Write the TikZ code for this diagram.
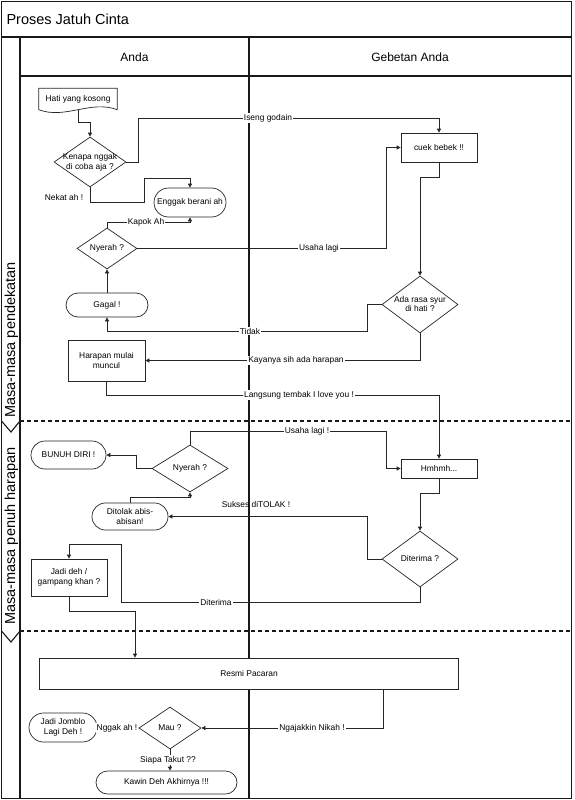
\documentclass[tikz,border=0pt]{standalone}
\usepackage{fontspec}
\setmainfont{Liberation Sans}
\usetikzlibrary{arrows.meta,positioning,calc,shapes.geometric}

\newcommand{\flowfont}{\fontsize{8.4}{9.6}\selectfont}
\newcommand{\dectext}[1]{\smash{\makebox[0pt]{\raisebox{-2.5pt}{\begin{tabular}{@{}c@{}}#1\end{tabular}}}}}

\begin{document}
\begin{tikzpicture}[x=1pt,y=-1pt,
  box/.style={draw=black!85, fill=white, rectangle, inner sep=0pt, align=center, font=\flowfont, line width=0.7pt},
  term/.style={draw=black!85, rectangle, rounded corners=#1, inner sep=0pt, align=center, font=\flowfont, line width=0.7pt},
  term/.default=12pt,
  dec/.style={draw=black!85, diamond, inner sep=0pt, font=\flowfont, line width=0.7pt},
  lbl/.style={fill=white, inner sep=1pt, font=\flowfont},
  flow/.style={draw=black!85, line width=0.7pt, -{Triangle[length=4pt,width=4pt]}},
  lane/.style={draw=black!90, line width=1.1pt},
  phase/.style={draw=black!90, line width=1.6pt, dash pattern=on 4pt off 3pt}]
  \useasboundingbox (0,0) rectangle (574,800);
  % pool and lanes
  \draw[lane] (1.5,1.5) rectangle (571.5,798.5);
  \draw[lane] (1.5,37) -- (571.5,37);
  \draw[lane] (20,37) -- (20,798.5);
  \draw[lane] (20,76) -- (571.5,76);
  \draw[lane] (249,37) -- (249,798.5);
  \draw[phase] (20,421) -- (571.5,421);
  \draw[phase] (20,631) -- (571.5,631);
  \draw[lane] (1.5,421) -- (11,432) -- (20,421);
  \draw[lane] (1.5,631) -- (11,642) -- (20,631);
  \node[anchor=west, font=\fontsize{14.5}{16}\selectfont] (title) at (3,19) {Proses Jatuh Cinta};
  \node[font=\fontsize{12}{14}\selectfont] (anda) at (134.5,57) {Anda};
  \node[font=\fontsize{12}{14}\selectfont] (gebetan) at (410,57) {Gebetan Anda};
  \node[rotate=90, anchor=west, inner sep=0pt, font=\fontsize{14.5}{16}\selectfont] (fase1) at (11.5,418) {Masa-masa pendekatan};
  \node[rotate=90, anchor=west, inner sep=0pt, font=\fontsize{14.5}{16}\selectfont] (fase2) at (11.5,625) {Masa-masa penuh harapan};

  % steps
  \node[inner sep=0pt, minimum width=78pt, minimum height=21pt, font=\flowfont] (hati) at (78,99) {Hati yang kosong};
  \draw[draw=black!85, line width=0.7pt] (hati.south east) -- (hati.north east) -- (hati.north west) -- (hati.south west)
    .. controls +(26,10) and +(-26,-10) .. (hati.south east);
  \node[dec, minimum width=72pt, minimum height=50pt] (kenapa) at (90,162) {\dectext{Kenapa nggak\\di coba aja ?}};
  \node[box, minimum width=76pt, minimum height=29pt] (cuek) at (439,147.5) {cuek bebek !!};
  \node[term=14.5pt, minimum width=72pt, minimum height=29pt] (enggak) at (190,202.5) {Enggak berani ah};
  \node[dec, minimum width=60pt, minimum height=41pt] (nyerah1) at (107,248.5) {\dectext{Nyerah ?}};
  \node[dec, minimum width=76pt, minimum height=57pt] (ada) at (420,304.5) {\dectext{Ada rasa syur\\di hati ?}};
  \node[term, minimum width=82pt, minimum height=24pt] (gagal) at (107,305) {Gagal !};
  \node[box, minimum width=77pt, minimum height=41pt] (harapan) at (106.5,360.5) {Harapan mulai\\muncul};
  \node[box, minimum width=76pt, minimum height=19pt] (hmhmh) at (439,468.5) {Hmhmh...};
  \node[dec, minimum width=76pt, minimum height=47pt] (nyerah2) at (190,468.5) {\dectext{Nyerah ?}};
  \node[term=14pt, minimum width=75pt, minimum height=28pt] (bunuh) at (68.5,455) {BUNUH DIRI !};
  \node[term=13.5pt, minimum width=76pt, minimum height=27pt] (ditolak) at (130,516.5) {Ditolak abis-\\abisan!};
  \node[dec, minimum width=76pt, minimum height=56pt] (diterima) at (420,559) {\dectext{Diterima ?}};
  \node[box, minimum width=76pt, minimum height=37pt] (jadi) at (69,577.5) {Jadi deh /\\gampang khan ?};
  \node[box, minimum width=419pt, minimum height=31pt] (resmi) at (249,673.5) {Resmi Pacaran};
  \node[dec, minimum width=62pt, minimum height=42pt] (mau) at (170,728) {\dectext{Mau ?}};
  \node[term=14.5pt, minimum width=68pt, minimum height=29pt] (jomblo) at (63,727.5) {Jadi Jomblo\\Lagi Deh !};
  \node[term=11.5pt, minimum width=141pt, minimum height=23pt] (kawin) at (166.5,782.5) {Kawin Deh Akhirnya !!!};

  % connectors
  \draw[flow] (hati.south) -- ++(0,13) -| (kenapa.north);
  \draw[flow] (kenapa.east) -- ++(12,0) |- ($(cuek.north)+(0,-14)$) -- (cuek.north);
  \draw[flow] (kenapa.south) |- ++(54,15) |- ($(enggak.north)+(0,-9)$) -- (enggak.north);
  \draw[flow] (nyerah1.north) |- ($(enggak.south)+(0,5)$) -- (enggak.south);
  \draw[flow] (nyerah1.east) -| ($(cuek.west)+(-14,0)$) -- (cuek.west);
  \draw[flow] (cuek.south) -- ++(0,15) -| (ada.north);
  \draw[flow] (ada.west) -- ++(-14,0) |- ($(gagal.south)+(0,14)$) -- (gagal.south);
  \draw[flow] (gagal.north) -- (nyerah1.south);
  \draw[flow] (ada.south) |- (harapan.east);
  \draw[flow] (harapan.south) -- ++(0,14) -| (hmhmh.north);
  \draw[flow] (hmhmh.south) -- ++(0,15) -| (diterima.north);
  \draw[flow] (nyerah2.north) |- ($(hmhmh.west)+(-14,-37.5)$) |- (hmhmh.west);
  \draw[flow] (nyerah2.west) -- ++(-15,0) |- (bunuh.east);
  \draw[flow] (ditolak.north) -- ++(0,-5) -| (nyerah2.south);
  \draw[flow] (diterima.west) -- ++(-14,0) |- (ditolak.east);
  \draw[flow] (diterima.south) |- ++(-299,15) |- ($(jadi.north)+(0,-14)$) -- (jadi.north);
  \draw[flow] (jadi.south) -- ++(0,15) -| ($(resmi.north)+(-114,0)$);
  \draw[flow] ($(resmi.south)+(134,0)$) |- (mau.east);
  \draw[flow] (mau.west) -- (jomblo.east);
  \draw[flow] (mau.south) -- (mau.south |- kawin.north);

  % connector labels
  \node[lbl] (l-iseng) at (268,118) {Iseng godain};
  \node[lbl, fill=none] (l-nekat) at (64,197) {Nekat ah !};
  \node[lbl] (l-kapok) at (146,222) {Kapok Ah};
  \node[lbl] (l-usaha1) at (319,248.5) {Usaha lagi};
  \node[lbl] (l-tidak) at (250,331) {Tidak};
  \node[lbl] (l-kayanya) at (296,360.5) {Kayanya sih ada harapan};
  \node[lbl] (l-langsung) at (299,395) {Langsung tembak I love you !};
  \node[lbl] (l-usaha2) at (307,431) {Usaha lagi !};
  \node[lbl, fill=none] (l-sukses) at (256,504) {Sukses diTOLAK !};
  \node[lbl] (l-diterima) at (216,602) {Diterima};
  \node[lbl] (l-nikah) at (312,728) {Ngajakkin Nikah !};
  \node[lbl] (l-nggak) at (117,728) {Nggak ah !};
  \node[lbl] (l-siapa) at (168,760) {Siapa Takut ??};
\end{tikzpicture}
\end{document}
